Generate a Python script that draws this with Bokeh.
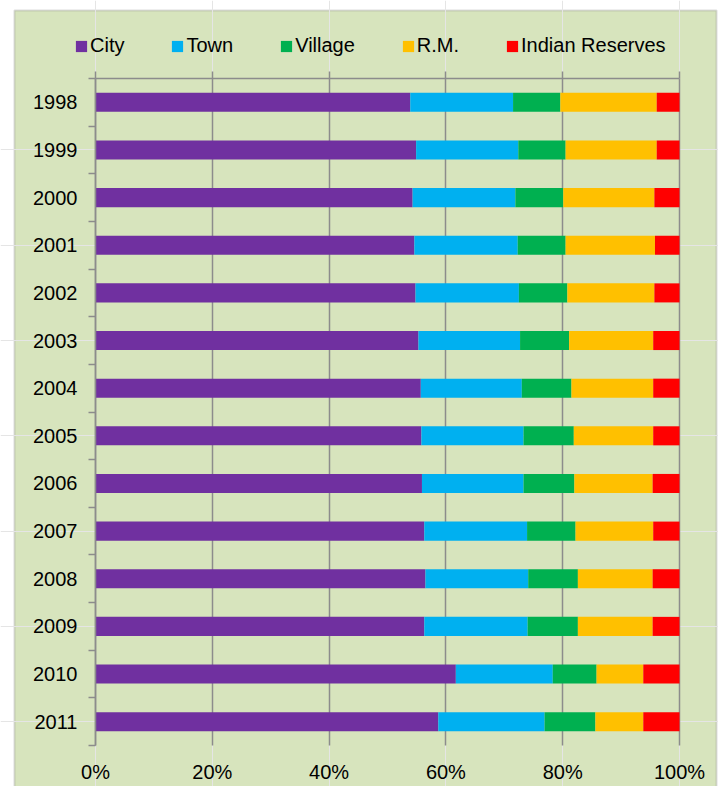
from bokeh.plotting import figure
from bokeh.models import (ColumnDataSource, Range1d, FixedTicker, LinearAxis,
                          PrintfTickFormatter, BoxAnnotation, Grid)
from bokeh.embed import file_html
from bokeh.resources import INLINE

years = ["1998", "1999", "2000", "2001", "2002", "2003", "2004",
         "2005", "2006", "2007", "2008", "2009", "2010", "2011"]
city = [53.9, 54.9, 54.3, 54.6, 54.8, 55.3, 55.7, 55.8, 55.9, 56.3, 56.5, 56.3, 61.7, 58.7]
town = [17.6, 17.5, 17.6, 17.7, 17.7, 17.4, 17.3, 17.5, 17.4, 17.6, 17.6, 17.7, 16.6, 18.2]
village = [8.1, 8.1, 8.2, 8.2, 8.3, 8.4, 8.5, 8.6, 8.7, 8.3, 8.5, 8.6, 7.5, 8.7]
rm = [16.5, 15.6, 15.6, 15.3, 14.9, 14.4, 14.0, 13.6, 13.4, 13.3, 12.8, 12.8, 8.0, 8.2]
indian = [3.9, 3.9, 4.3, 4.2, 4.3, 4.5, 4.5, 4.5, 4.6, 4.5, 4.6, 4.6, 6.2, 6.2]

series_names = ["City", "Town", "Village", "R.M.", "Indian Reserves"]
series_keys = ["city", "town", "village", "rm", "indian"]
colors = ["#7030A0", "#00B0F0", "#00B050", "#FFC000", "#FF0000"]
x_ticks = [0, 20, 40, 60, 80, 100]

n = len(years)
pos = [i + 1 for i in range(n)]
source = ColumnDataSource(dict(year=years, pos=pos, city=city, town=town,
                               village=village, rm=rm, indian=indian))

BG = "#D7E4BD"
GRID = "#8C8C8C"
FONT = "Liberation Sans"

W, H = 718, 786
# plot-area placement in canvas pixels
FL, FR, FT, FB = 95, 679, 78, 745
xpx = (FR - FL) / 100.0
ypx = (FB - FT) / float(n)
x_start = 0 - FL / xpx
x_end = 100 + (W - FR) / xpx
y_top = 0.5 - FT / ypx
y_bot = n + 0.5 + (H - FB) / ypx

p = figure(width=W, height=H, output_backend="svg", toolbar_location=None,
           x_range=Range1d(x_start, x_end), y_range=Range1d(y_bot, y_top),
           x_axis_location=None, y_axis_location=None,
           min_border=0, min_border_left=0, min_border_right=0,
           min_border_top=0, min_border_bottom=0)
p.border_fill_color = "white"
p.background_fill_color = "white"
p.outline_line_color = None

chart_box = BoxAnnotation(left=14, right=716, top=10, bottom=H + 20,
                          left_units="canvas", right_units="canvas",
                          top_units="canvas", bottom_units="canvas",
                          fill_color=BG, fill_alpha=1.0,
                          line_color=GRID, line_width=2, level="image")
p.add_layout(chart_box)

# vertical gridlines, only across the plot area
grid = Grid(dimension=0, ticker=FixedTicker(ticks=x_ticks),
            cross_bounds=(0.5, n + 0.5),
            grid_line_color=GRID, grid_line_width=1.5)
p.add_layout(grid)

p.hbar_stack(series_keys, y="pos", height=0.4, source=source, color=colors,
             line_color=None, legend_label=series_names)

# bottom axis: labels only
xa = LinearAxis(ticker=FixedTicker(ticks=x_ticks), fixed_location=n + 0.5,
                bounds=(0, 100))
xa.formatter = PrintfTickFormatter(format="%d%%")
xa.axis_line_color = None
xa.major_tick_line_color = None
xa.minor_tick_line_color = None
xa.major_label_standoff = 9
xa.major_label_text_font = FONT
xa.major_label_text_font_size = "20px"
xa.major_label_text_color = "black"
p.add_layout(xa, "below")

# top axis: line and outside ticks, no labels
top = LinearAxis(ticker=FixedTicker(ticks=x_ticks), fixed_location=0.5,
                 bounds=(0, 100))
top.axis_line_color = GRID
top.axis_line_width = 1.5
top.major_tick_line_color = GRID
top.major_tick_line_width = 1.5
top.major_tick_out = 7
top.major_tick_in = 0
top.minor_tick_line_color = None
top.major_label_text_color = None
top.major_label_text_font_size = "1px"
p.add_layout(top, "above")

# left axis: year labels, boundary tick marks
ya = LinearAxis(ticker=FixedTicker(ticks=pos, minor_ticks=[i + 0.5 for i in range(n + 1)]),
                fixed_location=0, bounds=(0.5, n + 0.5))
ya.major_label_overrides = {pp: yr for pp, yr in zip(pos, years)}
ya.axis_line_color = GRID
ya.axis_line_width = 1.5
ya.major_tick_line_color = None
ya.major_tick_out = 0
ya.major_tick_in = 0
ya.minor_tick_line_color = GRID
ya.minor_tick_line_width = 1.5
ya.minor_tick_out = 7
ya.minor_tick_in = 0
ya.major_label_standoff = 11
ya.major_label_text_font = FONT
ya.major_label_text_font_size = "20px"
ya.major_label_text_color = "black"
p.add_layout(ya, "left")

# legend
lg = p.legend[0]
lg.orientation = "horizontal"
lg.location = (74, H - 57)
lg.background_fill_color = None
lg.border_line_color = None
lg.padding = 0
lg.margin = 0
lg.spacing = 46
lg.glyph_width = 14
lg.glyph_height = 14
lg.label_standoff = 2
lg.label_text_font = FONT
lg.label_text_font_size = "20px"
lg.label_text_color = "black"

open("out.html", "w").write(file_html(p, INLINE))
